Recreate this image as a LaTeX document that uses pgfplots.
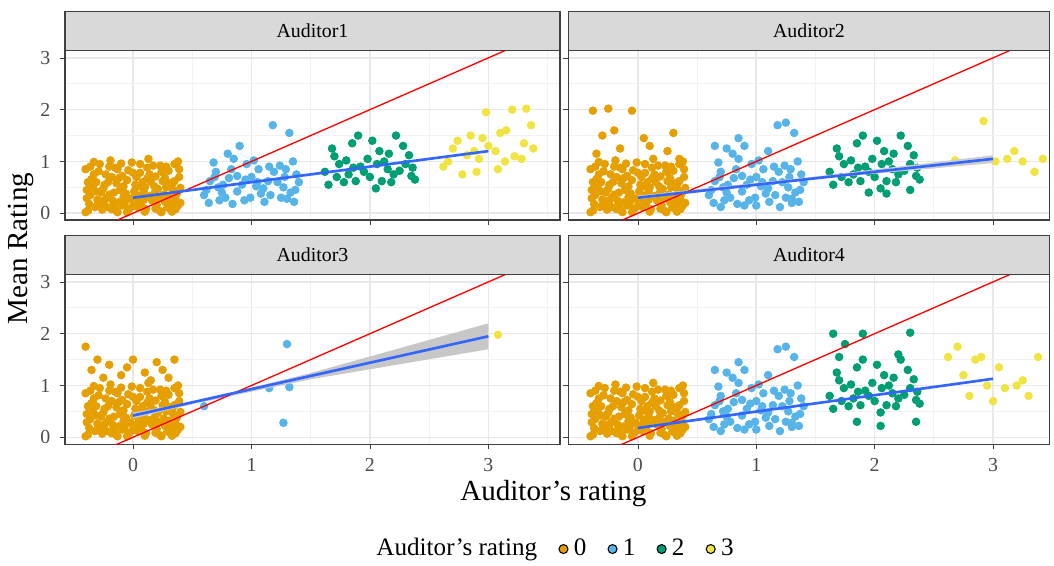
\documentclass[border=0pt]{standalone}
\usepackage{pgfplots}
\pgfplotsset{compat=1.18}
\usepackage{pgfplotstable}
\usepackage{fontspec}
\setmainfont{Liberation Serif}
\definecolor{cO}{HTML}{E69F00}
\definecolor{cB}{HTML}{56B4E9}
\definecolor{cG}{HTML}{009E73}
\definecolor{cY}{HTML}{F0E442}
\definecolor{cL}{HTML}{3366FF}
\pgfplotstableread{
x y
-0.38 0.05
-0.31 0.42
-0.22 0.12
-0.15 0.88
-0.08 0.31
0.02 0.55
0.11 0.08
0.19 0.71
0.27 0.22
0.35 0.95
-0.35 0.66
-0.27 0.18
-0.19 1.02
-0.11 0.45
-0.03 0.09
0.06 0.78
0.14 0.33
0.23 0.04
0.31 0.58
0.38 0.15
-0.39 0.29
-0.29 0.81
-0.2 0.36
-0.13 0.02
-0.05 0.64
0.04 0.26
0.13 1.05
0.21 0.47
0.29 0.11
0.37 0.38
-0.33 0.99
-0.24 0.55
-0.17 0.24
-0.09 0.72
0.0 0.14
0.09 0.41
0.17 0.92
0.25 0.62
0.33 0.03
0.4 0.49
-0.37 0.18
-0.26 0.07
-0.14 0.58
0.07 0.19
0.3 0.82
-0.01 0.98
0.15 0.6
-0.23 0.75
0.36 0.27
-0.06 0.38
-0.36 0.35
-0.28 0.95
-0.21 0.6
-0.12 0.21
-0.04 0.83
0.05 0.34
0.12 0.67
0.2 0.16
0.28 0.9
0.34 0.44
-0.4 0.85
-0.32 0.12
-0.25 0.48
-0.16 0.4
-0.07 0.2
0.03 0.7
0.1 0.03
0.18 0.52
0.26 0.36
0.39 0.7
-0.34 0.5
-0.18 0.08
-0.1 0.96
0.01 0.42
0.08 0.6
0.16 0.25
0.24 0.8
0.32 0.18
0.38 1.0
-0.3 0.26
-0.2 0.9
-0.02 0.28
0.12 0.88
0.22 0.3
0.35 0.62
-0.38 0.6
-0.12 0.68
0.19 0.09
0.28 0.5
0.06 0.95
-0.33 0.75
-0.14 0.05
0.04 0.12
0.24 0.02
0.4 0.2
-0.4 0.02
-0.08 0.52
0.1 0.5
0.3 0.32
-0.22 0.3
-0.36 0.9
-0.27 0.4
-0.18 0.7
-0.09 0.15
0.0 0.78
0.09 0.26
0.18 0.38
0.27 0.68
0.36 0.08
-0.31 0.6
-0.13 0.85
0.05 0.52
0.23 0.92
0.39 0.85
-0.39 0.45
-0.24 0.25
-0.05 0.02
0.14 0.75
0.33 0.55
-0.16 0.15
}\orange
\pgfplotstableread{
x y
0.62 0.45
0.7 0.8
0.78 0.3
0.85 1.05
0.92 0.55
1.0 0.7
1.08 0.38
1.15 0.9
1.22 0.6
1.3 0.28
1.38 0.75
0.65 0.62
0.73 0.25
0.81 0.68
0.88 0.42
0.96 0.95
1.04 0.52
1.11 0.22
1.19 0.8
1.27 0.5
1.35 1.0
0.68 0.98
0.76 0.55
0.84 0.18
0.99 0.3
1.06 0.85
1.14 0.62
1.24 0.92
1.33 0.4
0.9 1.3
1.18 1.7
1.32 1.55
0.8 1.15
1.02 1.02
0.6 0.35
1.4 0.6
1.25 0.3
0.95 0.65
0.72 0.5
0.88 0.72
1.1 0.48
1.28 0.7
1.36 0.22
0.64 0.2
0.75 0.4
0.94 0.25
1.16 0.35
1.37 0.45
0.83 0.85
1.05 0.6
1.29 0.85
0.69 0.7
}\blue
\pgfplotstableread{
x y
1.62 0.8
1.7 1.1
1.78 0.6
1.85 1.35
1.92 0.9
2.0 0.7
2.08 1.2
2.15 0.85
2.22 1.5
2.3 0.95
2.38 0.65
1.65 0.55
1.74 0.95
1.82 0.75
1.9 1.5
1.98 1.05
2.05 0.48
2.12 1.0
2.2 0.75
2.28 1.3
2.36 0.88
1.68 1.25
1.88 0.62
2.02 1.4
2.18 0.6
2.33 1.12
1.8 1.02
2.25 0.82
1.95 0.8
2.1 0.62
1.72 0.7
2.16 1.15
2.35 0.72
1.86 0.88
2.06 0.95
}\green
\pgfplotstableread{
x y
2.62 0.9
2.7 1.25
2.78 0.75
2.85 1.5
2.92 1.05
3.0 1.3
3.08 0.85
3.15 1.6
3.22 1.1
3.3 1.35
3.38 1.25
2.66 1.0
2.74 1.4
2.82 1.12
2.9 0.8
2.98 1.95
3.06 1.2
3.14 1.0
3.2 2.0
3.28 1.05
3.36 1.7
2.95 1.45
3.1 1.55
3.32 2.02
2.88 1.2
}\yellowA
\pgfplotstableread{
x y
-0.38 1.98
-0.25 2.02
-0.05 1.98
0.3 1.55
-0.3 1.5
0.1 1.3
-0.15 1.25
0.25 1.2
-0.35 1.15
0.35 1.05
-0.2 1.6
0.05 1.45
}\orangeTwo
\pgfplotstableread{
x y
0.7 0.12
1.0 0.15
1.3 0.2
0.85 1.45
1.25 1.75
0.65 1.3
1.1 1.2
0.9 0.15
1.2 0.12
0.75 1.25
}\blueTwo
\pgfplotstableread{
x y
2.1 0.38
1.95 0.4
2.3 0.45
}\greenTwo
\pgfplotstableread{
x y
2.68 1.02
2.92 1.78
3.02 1.0
3.12 1.05
3.18 1.2
3.25 1.0
3.35 0.8
3.42 1.05
}\yellowB
\pgfplotstableread{
x y
-0.4 1.75
-0.3 1.5
-0.2 1.4
0.0 1.5
0.1 1.25
0.2 1.45
0.35 1.5
-0.1 1.2
0.3 1.15
-0.35 1.3
-0.05 1.35
0.25 1.3
-0.25 1.15
0.15 1.1
}\orangeThree
\pgfplotstableread{
x y
0.6 0.6
1.15 0.95
1.3 1.8
1.32 0.97
1.27 0.28
}\blueThree
\pgfplotstableread{
x y
2.85 1.97
3.08 1.98
}\yellowC
\pgfplotstableread{
x y
1.75 1.8
1.9 2.0
2.3 2.02
1.65 2.0
2.05 0.22
1.85 0.3
2.2 1.6
1.7 1.55
2.35 0.3
}\greenFour
\pgfplotstableread{
x y
2.62 1.55
2.7 1.75
2.75 1.2
2.85 1.5
2.9 1.55
2.95 1.0
3.05 1.35
3.1 0.95
3.2 1.0
3.25 1.1
3.3 0.8
3.38 1.55
2.8 0.8
3.0 0.7
}\yellowD
\pgfplotsset{
  panel/.style={scale only axis, height=2.25cm,
    ymin=-0.13, ymax=3.14,
    xtick={0,1,2,3}, ytick={0,1,2,3},
    minor xtick={0.5,1.5,2.5,3.5}, minor ytick={0.5,1.5,2.5},
    grid=both, major grid style={black!9, line width=0.6pt},
    minor grid style={black!5, line width=0.4pt},
    axis line style={black!75}, tick style={black!75},
    major tick length=2pt, minor tick length=0pt,
    tick align=outside, xtick pos=bottom, ytick pos=left,
    tick label style={font=\fontsize{7.5}{8}\selectfont, text=black!70},
    /pgf/number format/assume math mode=true,
    clip mode=individual,
  },
  pts/.style={only marks, mark=*, mark size=1.4pt, color=#1, mark options={draw=#1, fill=#1}, forget plot},
  strip/.style={after end axis/.code={
    \draw[black!75, fill=black!15] (rel axis cs:0,1) rectangle ([yshift=0.52cm]rel axis cs:1,1);
    \node[font=\fontsize{7.5}{8}\selectfont] at ([yshift=0.26cm]rel axis cs:0.5,1) {#1};}},
}
\begin{document}
\begin{tikzpicture}
\path[use as bounding box] (0,0) rectangle (14,-7.505);
% Auditor1
\begin{scope}[shift={(0.863,-2.922)}]
\begin{axis}[panel, width=6.575cm, xmin=-0.574, xmax=3.604, strip={Auditor1}, xticklabels={}]
\addplot[pts=cO] table {\orange};
\addplot[pts=cB] table {\blue};
\addplot[pts=cG] table {\green};
\addplot[pts=cY] table {\yellowA};
\addplot[red, line width=0.5pt, forget plot] coordinates {(-0.6,-0.6) (3.6,3.6)};
\addplot[cL, line width=1pt, forget plot] coordinates {(0,0.3) (3,1.2)};
\end{axis}
\end{scope}
% Auditor2
\begin{scope}[shift={(7.545,-2.922)}]
\begin{axis}[panel, width=6.40cm, xmin=-0.59, xmax=3.48, yticklabels={}, strip={Auditor2}, xticklabels={}]
\addplot[pts=cO] table {\orange};
\addplot[pts=cO] table {\orangeTwo};
\addplot[pts=cB] table {\blue};
\addplot[pts=cB] table {\blueTwo};
\addplot[pts=cG] table {\green};
\addplot[pts=cG] table {\greenTwo};
\addplot[pts=cY] table {\yellowB};
\addplot[fill=black!20, draw=none, forget plot] coordinates {(0,0.27) (1.5,0.66) (3,0.97) (3,1.12) (1.5,0.71) (0,0.34)};
\addplot[red, line width=0.5pt, forget plot] coordinates {(-0.6,-0.6) (3.6,3.6)};
\addplot[cL, line width=1pt, forget plot] coordinates {(0,0.3) (3,1.05)};
\end{axis}
\end{scope}
% Auditor3
\begin{scope}[shift={(0.863,-5.898)}]
\begin{axis}[panel, width=6.575cm, xmin=-0.574, xmax=3.604, strip={Auditor3},
  legend style={at={(0.99,-0.62)}, anchor=center, draw=none, fill=none, legend columns=-1,
    font=\fontsize{9.5}{10}\selectfont, /tikz/every even column/.append style={column sep=6pt}},
  legend image code/.code={\fill[#1] (0pt,0pt) circle (1.7pt);}]
\addplot[pts=cO] table {\orange};
\addplot[pts=cO] table {\orangeThree};
\addplot[pts=cB] table {\blueThree};
\addplot[pts=cY] table {\yellowC};
\addplot[fill=black!22, draw=none, forget plot] coordinates {(0,0.36) (0.5,0.64) (1.5,1.12) (3,1.70) (3,2.20) (1.5,1.24) (0.5,0.68) (0,0.48)};
\addplot[red, line width=0.5pt, forget plot] coordinates {(-0.6,-0.6) (3.6,3.6)};
\addplot[cL, line width=1pt, forget plot] coordinates {(0,0.42) (3,1.95)};
\addlegendimage{empty legend}\addlegendentry{Auditor's rating}
\addlegendimage{fill=cO}\addlegendentry{0}
\addlegendimage{fill=cB}\addlegendentry{1}
\addlegendimage{fill=cG}\addlegendentry{2}
\addlegendimage{fill=cY}\addlegendentry{3}
\end{axis}
\end{scope}
% Auditor4
\begin{scope}[shift={(7.545,-5.898)}]
\begin{axis}[panel, width=6.40cm, xmin=-0.59, xmax=3.48, yticklabels={}, strip={Auditor4}]
\addplot[pts=cO] table {\orange};
\addplot[pts=cB] table {\blue};
\addplot[pts=cB] table {\blueTwo};
\addplot[pts=cG] table {\green};
\addplot[pts=cG] table {\greenFour};
\addplot[pts=cY] table {\yellowD};
\addplot[red, line width=0.5pt, forget plot] coordinates {(-0.6,-0.6) (3.6,3.6)};
\addplot[cL, line width=1pt, forget plot] coordinates {(0,0.18) (3,1.13)};
\end{axis}
\end{scope}
\node[rotate=90, font=\fontsize{11}{12}\selectfont] at (0.28,-3.3) {Mean Rating};
\node[font=\fontsize{11}{12}\selectfont] at (7.35,-6.55) {Auditor's rating};
\end{tikzpicture}
\end{document}
